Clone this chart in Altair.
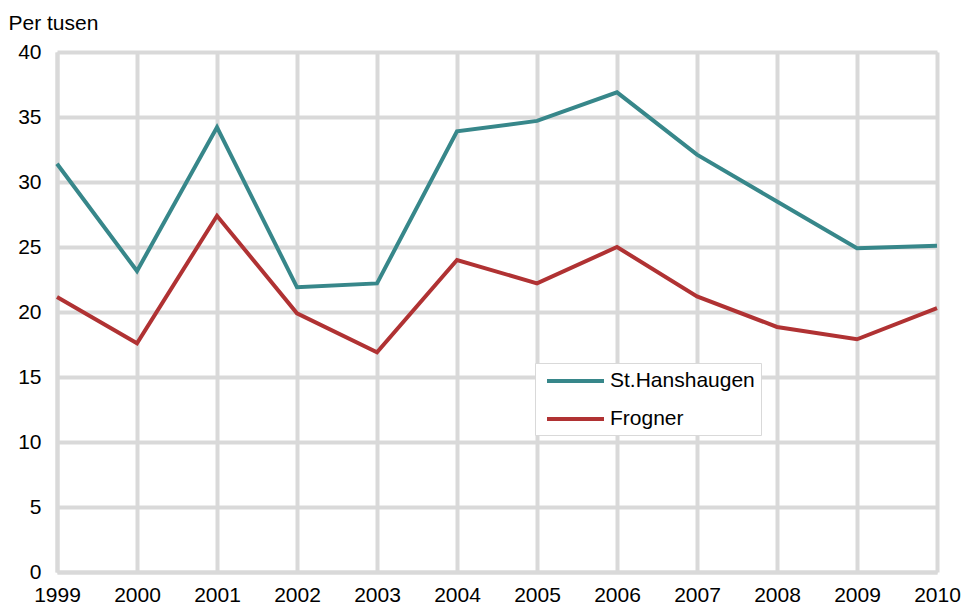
import altair as alt
import pandas as pd

years = [1999, 2000, 2001, 2002, 2003, 2004, 2005, 2006, 2007, 2008, 2009, 2010]
st_hanshaugen = [31.4, 23.15, 34.2, 21.9, 22.2, 33.9, 34.7, 36.9, 32.1, 28.5, 24.9, 25.1]
frogner = [21.15, 17.6, 27.4, 19.9, 16.9, 24.0, 22.2, 25.0, 21.2, 18.85, 17.9, 20.3]
series_names = ["St.Hanshaugen", "Frogner"]
series_colors = ["#37878a", "#b03233"]

rows = []
for name, vals in zip(series_names, [st_hanshaugen, frogner]):
    for y, v in zip(years, vals):
        rows.append({"year": y, "value": v, "series": name})
df = pd.DataFrame(rows)

FONT = "Liberation Sans"
GRID = "#d9d9d9"
FS = 21

chart = alt.Chart(df).mark_line(strokeWidth=4).encode(
    x=alt.X("year:Q",
            scale=alt.Scale(domain=[1999, 2010], nice=False, zero=False),
            axis=alt.Axis(values=years, format="d", title=None, grid=True,
                          gridColor=GRID, gridWidth=4, domainColor=GRID, domainWidth=4,
                          ticks=False, labelPadding=12, labelFontSize=FS,
                          labelFont=FONT, labelColor="#000000", labelFlush=False)),
    y=alt.Y("value:Q",
            scale=alt.Scale(domain=[0, 40], nice=False),
            axis=alt.Axis(values=[0, 5, 10, 15, 20, 25, 30, 35, 40], title="Per tusen",
                          titleAngle=0, titleAlign="left", titleBaseline="alphabetic",
                          titleX=-49, titleY=-23, titleFontSize=FS, titleFont=FONT,
                          titleFontWeight="normal", titleColor="#000000",
                          grid=True, gridColor=GRID, gridWidth=4, domainColor=GRID,
                          domainWidth=4, ticks=False, labelPadding=16, labelFontSize=FS,
                          labelFont=FONT, labelColor="#000000")),
    color=alt.Color("series:N",
                    scale=alt.Scale(domain=series_names, range=series_colors),
                    legend=alt.Legend(title=None, orient="none", legendX=478, legendY=311,
                                      symbolType="M-0.6,0H5.1", symbolSize=400,
                                      symbolStrokeWidth=4, labelFontSize=FS, labelFont=FONT,
                                      labelColor="#000000", strokeColor=GRID, fillColor="white",
                                      padding=6, rowPadding=16, labelOffset=45,
                                      symbolLimit=0))
).properties(
    width=880, height=520,
    autosize=alt.AutoSizeParams(type="none"),
    padding={"left": 49, "top": 44, "right": 24, "bottom": 34}
).configure_view(stroke=None).configure(background="white")

chart.save("out.html", embed_options={"renderer": "svg", "actions": False})

with open("out.html", "r", encoding="utf-8") as f:
    html = f.read()
css = ("<style>html{overflow:hidden;margin:0;padding:0;}"
       "body{overflow:hidden;margin:8px 0 0 8px;padding:0;}"
       ".vega-embed{vertical-align:top;display:block;}</style>")
html = html.replace("<head>", "<head>\n" + css, 1)
with open("out.html", "w", encoding="utf-8") as f:
    f.write(html)
